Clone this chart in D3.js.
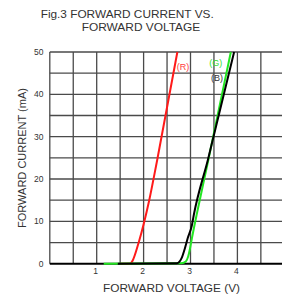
<!DOCTYPE html>
<html>
<head>
<meta charset="utf-8">
<script src="https://cdn.jsdelivr.net/npm/d3@7"></script>
<style>
  html, body { margin: 0; padding: 0; background: #fff; }
  svg { display: block; }
</style>
</head>
<body>
<div id="chart"></div>
<script>
// 数据 (V, mA)
var redV   = [1.50, 1.71, 1.76, 1.90, 2.12, 2.29, 2.72];
var redI   = [0,    0,    0.6,  5.2,  15,   24.5, 50];
var greenV = [1.15, 2.81, 2.90, 2.95, 2.99, 3.03, 3.13, 3.38, 3.86];
var greenI = [0,    0.1,  0.5,  1.7,  3.6,  6.0,  11.5, 24.5, 50];
var blackV = [1.45, 2.71, 2.81, 2.88, 2.94, 3.03, 3.07, 3.37, 3.93];
var blackI = [0,    0.1,  1.3,  3.6,  6.0,  9.1,  11.5, 24.5, 50];
var xTicks = [1, 2, 3, 4];
var yTicks = [0, 10, 20, 30, 40, 50];

var width = 282, height = 297;
var startX = 49.8, startY = 52, plotBottom = 263.7;

var svg = d3.select("#chart").append("svg").attr("width", width).attr("height", height)
  .style("font-family", "'Liberation Sans', Arial, sans-serif");

var xScale = d3.scaleLinear().domain([0, 5]).range([startX, startX + 234.5]);
var yScale = d3.scaleLinear().domain([0, 50]).range([plotBottom, startY]);

//标题
svg.append("text").text("Fig.3 FORWARD CURRENT VS.").attr("x", 40.7).attr("y", 18.3)
  .attr("font-size", 10.5).attr("fill", "#333").attr("textLength", 173).attr("lengthAdjust", "spacingAndGlyphs");
svg.append("text").text("FORWARD VOLTAGE").attr("x", 81.7).attr("y", 31.3)
  .attr("font-size", 10.5).attr("fill", "#333").attr("textLength", 118.5).attr("lengthAdjust", "spacingAndGlyphs");

//竖线
svg.selectAll(".vlines").data(d3.range(0, 5.01, 0.5)).enter().append("line")
  .attr("stroke", "#4a4a4a").attr("stroke-width", 1.3)
  .attr("x1", function(d){return xScale(d);}).attr("y1", startY)
  .attr("x2", function(d){return xScale(d);}).attr("y2", plotBottom);
//横线
svg.selectAll(".hlines").data(d3.range(5, 51, 5)).enter().append("line")
  .attr("stroke", "#4a4a4a").attr("stroke-width", 1.3)
  .attr("x1", startX).attr("y1", function(d){return yScale(d);})
  .attr("x2", width).attr("y2", function(d){return yScale(d);});

//底边
svg.append("line").attr("x1", startX).attr("x2", width).attr("y1", plotBottom).attr("y2", plotBottom)
  .attr("stroke", "#000").attr("stroke-width", 2);

//刻度
svg.selectAll(".ylab").data(yTicks).enter().append("text").text(function(d){return d;})
  .attr("x", 43.5).attr("y", function(d){return yScale(d);}).attr("dy", ".35em")
  .attr("text-anchor", "end").attr("font-size", 8.5).attr("fill", "#333");
svg.selectAll(".xlab").data(xTicks).enter().append("text").text(function(d){return d;})
  .attr("x", function(d){return xScale(d) - 1;}).attr("y", 274)
  .attr("text-anchor", "middle").attr("font-size", 8.5).attr("fill", "#333");

//轴标题
svg.append("text").text("FORWARD VOLTAGE (V)").attr("x", 171.5).attr("y", 292)
  .attr("text-anchor", "middle").attr("font-size", 10.5).attr("fill", "#333")
  .attr("textLength", 137).attr("lengthAdjust", "spacingAndGlyphs");
svg.append("text").text("FORWARD CURRENT (mA)")
  .attr("transform", "translate(25.5,158) rotate(-90)")
  .attr("text-anchor", "middle").attr("font-size", 10.5).attr("fill", "#333")
  .attr("textLength", 140).attr("lengthAdjust", "spacingAndGlyphs");

//曲线
function toPts(vs, is) { return vs.map(function(v, i){ return [v, is[i]]; }); }
var line = d3.line().x(function(d){return xScale(d[0]);}).y(function(d){return yScale(d[1]);})
  .curve(d3.curveMonotoneX);

var series = [
  {pts: toPts(redV, redI), color: "#ff1a1a"},
  {pts: toPts(greenV, greenI), color: "#22e622"},
  {pts: toPts(blackV, blackI), color: "#000"}
];
svg.selectAll(".curve").data(series).enter().append("path")
  .attr("d", function(d){return line(d.pts);})
  .attr("fill", "none").attr("stroke", function(d){return d.color;})
  .attr("stroke-width", 2).attr("stroke-linejoin", "round");

//标签
svg.append("text").text("(R)").attr("x", 176.7).attr("y", 66.7).attr("dy", ".35em")
  .attr("font-size", 9).attr("fill", "#ff3b3b");
svg.append("text").text("(G)").attr("x", 209.3).attr("y", 63.3).attr("dy", ".35em")
  .attr("font-size", 9).attr("fill", "#33dd33");
svg.append("text").text("(B)").attr("x", 211).attr("y", 78.3).attr("dy", ".35em")
  .attr("font-size", 9).attr("fill", "#333");
</script>
</body>
</html>
